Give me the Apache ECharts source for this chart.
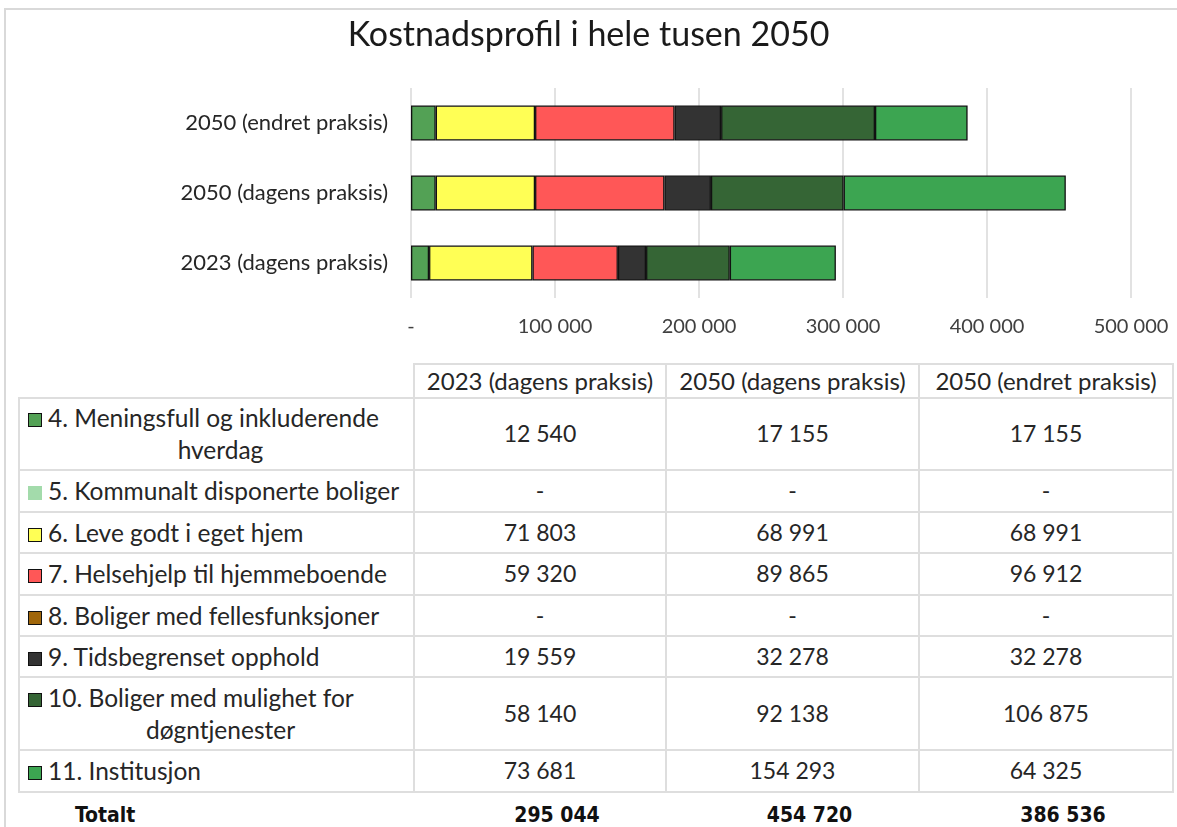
<!DOCTYPE html>
<html>
<head>
<meta charset="utf-8">
<title>Kostnadsprofil</title>
<script src="https://cdn.jsdelivr.net/npm/echarts@6/dist/echarts.min.js"></script>
<style>
  body { margin: 0; background: #fff; }
  #wrap { position: relative; width: 1177px; height: 827px; overflow: hidden; background: #fff; }
  #frame { position: absolute; left: 4px; top: 8px; width: 1300px; height: 1000px; border: 2px solid #d9d9d9; box-sizing: border-box; }
  #chart { position: absolute; left: 0; top: 0; width: 1177px; height: 360px; }
  #tbl { position: absolute; left: 18px; top: 363px; border-collapse: collapse; table-layout: fixed;
         font-family: Lato, sans-serif; font-size: 23px; color: #262626; line-height: 1.3; }
  #tbl td { border: 2px solid #dedede; padding: 0; text-align: center; white-space: nowrap; }
  #tbl td.blank { border: none; }
  #tbl td.hd { font-size: 24px; }
  #tbl td.lbl { text-align: left; padding-left: 8px; font-size: 24.5px; }
  #tbl td.lbl .l2 { text-align: center; }
  #tbl tr.tot td { border: none; font-family: "DejaVu Sans Condensed", "Liberation Sans Narrow", sans-serif;
                   font-weight: bold; font-size: 21px; color: #111; padding-left: 34px; }
  #tbl tr.tot td.lbl { padding-left: 56px; }
  .sw { display: inline-block; width: 12px; height: 12px; border: 1px solid #111; margin-right: 6px; vertical-align: 0px; }
</style>
</head>
<body>
<div id="wrap">
  <div id="frame"></div>
  <div id="chart"></div>
  <table id="tbl"></table>
</div>
<script>
// data
var categories = ['2023 (dagens praksis)', '2050 (dagens praksis)', '2050 (endret praksis)'];
var seriesNames = [
  '4. Meningsfull og inkluderende hverdag',
  '5. Kommunalt disponerte boliger',
  '6. Leve godt i eget hjem',
  '7. Helsehjelp til hjemmeboende',
  '8. Boliger med fellesfunksjoner',
  '9. Tidsbegrenset opphold',
  '10. Boliger med mulighet for døgntjenester',
  '11. Institusjon'
];
var meningsfull = [12540, 17155, 17155];
var kommunalt = [0, 0, 0];
var leveGodt = [71803, 68991, 68991];
var helsehjelp = [59320, 89865, 96912];
var fellesfunksjoner = [0, 0, 0];
var tidsbegrenset = [19559, 32278, 32278];
var dognBoliger = [58140, 92138, 106875];
var institusjon = [73681, 154293, 64325];
var totals = [295044, 454720, 386536];
var colors = ['#53a155', '#a3dbab', '#ffff55', '#ff5757', '#a0660a', '#333333', '#356535', '#3ca551'];
var axisMax = 500000;
var axisStep = 100000;

var values = [meningsfull, kommunalt, leveGodt, helsehjelp, fellesfunksjoner, tidsbegrenset, dognBoliger, institusjon];
// label lines in the data table (wrapped like in the reference)
var labelLines = [
  ['4. Meningsfull og inkluderende', 'hverdag'],
  ['5. Kommunalt disponerte boliger'],
  ['6. Leve godt i eget hjem'],
  ['7. Helsehjelp til hjemmeboende'],
  ['8. Boliger med fellesfunksjoner'],
  ['9. Tidsbegrenset opphold'],
  ['10. Boliger med mulighet for', 'døgntjenester'],
  ['11. Institusjon']
];
var rowHeights = [34, 72, 42, 41, 42, 41, 41, 73, 42, 46];

function fmt(v) {
  if (!v) return '-';
  return String(v).replace(/\B(?=(\d{3})+(?!\d))/g, ' ');
}

var chart = echarts.init(document.getElementById('chart'));
var series = seriesNames.map(function (name, i) {
  return {
    name: name,
    type: 'bar',
    stack: 'total',
    barWidth: 35,
    data: values[i].map(function (v) { return v === 0 ? '-' : v; }),
    itemStyle: { color: colors[i], borderColor: '#111', borderWidth: 1.3 },
    emphasis: { disabled: true }
  };
});

chart.setOption({
  animation: false,
  title: {
    text: 'Kostnadsprofil i hele tusen 2050',
    left: 'center',
    top: 13,
    textStyle: { fontFamily: 'Lato', fontSize: 34, fontWeight: 'normal', color: '#1a1a1a' }
  },
  grid: { left: 411, right: 46, top: 88, height: 210 },
  xAxis: {
    type: 'value',
    min: 0,
    max: axisMax,
    interval: axisStep,
    axisLine: { show: false },
    axisTick: { show: false },
    splitLine: { lineStyle: { color: '#d9d9d9', width: 1.5 } },
    axisLabel: {
      margin: 19,
      color: '#404040',
      fontFamily: 'Lato',
      fontSize: 20,
      formatter: fmt
    }
  },
  yAxis: {
    type: 'category',
    data: categories,
    axisLine: { show: false },
    axisTick: { show: false },
    axisLabel: { margin: 23, color: '#262626', fontFamily: 'Lato', fontSize: 22 }
  },
  series: series
});

// data table under the chart, built from the same arrays
var html = '<colgroup><col style="width:395px"><col style="width:252px"><col style="width:253px"><col style="width:254px"></colgroup>';
html += '<tr style="height:' + rowHeights[0] + 'px"><td class="blank"></td>';
categories.forEach(function (c) { html += '<td class="hd">' + c + '</td>'; });
html += '</tr>';
seriesNames.forEach(function (name, i) {
  var sw = '<span class="sw" style="background:' + colors[i] + (i === 1 ? ';border-color:' + colors[i] : '') + '"></span>';
  var lines = labelLines[i];
  var lbl = '<div>' + sw + lines[0] + '</div>';
  if (lines[1]) lbl += '<div class="l2">' + lines[1] + '</div>';
  html += '<tr style="height:' + rowHeights[i + 1] + 'px"><td class="lbl">' + lbl + '</td>';
  values[i].forEach(function (v) { html += '<td>' + fmt(v) + '</td>'; });
  html += '</tr>';
});
html += '<tr class="tot" style="height:' + rowHeights[9] + 'px"><td class="lbl">Totalt</td>';
totals.forEach(function (v) { html += '<td>' + fmt(v) + '</td>'; });
html += '</tr>';
document.getElementById('tbl').innerHTML = html;
</script>
</body>
</html>
